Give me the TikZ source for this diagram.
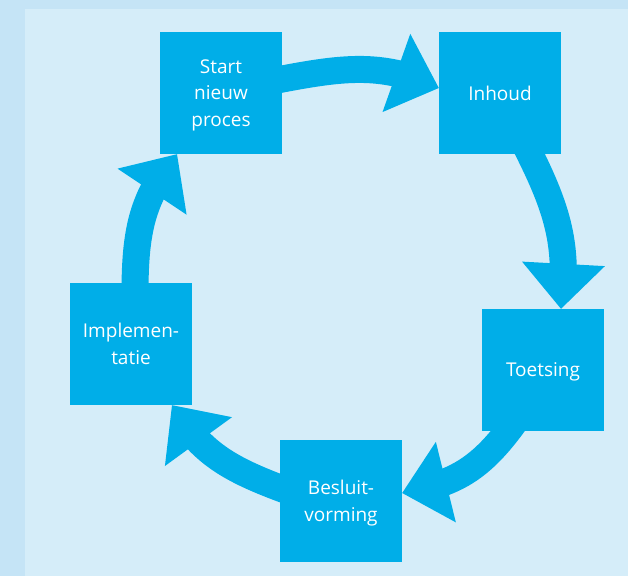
\documentclass[tikz,border=0pt]{standalone}
\usepackage{fontspec}
\setmainfont{Open Sans}
\usetikzlibrary{arrows.meta, bending, backgrounds}
\definecolor{panelout}{RGB}{197,228,246}
\definecolor{panelin}{RGB}{213,237,249}
\definecolor{stepblue}{RGB}{0,174,232}

\begin{document}
\begin{tikzpicture}[x=1pt, y=1pt]
  \tikzset{
    box/.style={rectangle, fill=stepblue, minimum width=122pt, minimum height=122pt,
      inner sep=0pt, text depth=0pt, align=center, text=white,
      font=\fontsize{19}{26.5}\selectfont},
    flow/.style={draw=stepblue, line width=27pt, shorten <=-10pt,
      -{Triangle[length=45pt, width=83pt, line width=0pt 0 0, flex]}}
  }

  % The five steps of the cycle
  \node[box] (start) at (221,483) {Start\\nieuw\\proces};
  \node[box] (inhoud) at (500,483) {Inhoud};
  \node[box] (toetsing) at (543,206) {Toetsing};
  \node[box] (besluit) at (341,75) {Besluit-\\vorming};
  \node[box] (impl) at (131,232) {Implemen-\\tatie};

  \begin{scope}[on background layer]
    % Panel with darker strip on the left and top
    \fill[panelout] (0,0) rectangle (628,576);
    \fill[panelin] (25,0) rectangle (628,567);

    % Curved arrows between the steps
    \draw[flow] ([yshift=14pt]start.east) to[out=11, in=155] ([yshift=5pt]inhoud.west);
    \draw[flow] ([xshift=30pt]inhoud.south) to[out=-63, in=83] ([xshift=18pt]toetsing.north);
    \draw[flow] ([xshift=-35pt]toetsing.south) to[out=-126, in=9] ([yshift=8pt]besluit.east);
    \draw[flow] ([yshift=13pt]besluit.west) to[out=160, in=-60] ([xshift=41pt]impl.south);
    \draw[flow] ([xshift=4pt]impl.north) to[out=90, in=-129] ([xshift=-44pt]start.south);
  \end{scope}
\end{tikzpicture}
\end{document}
